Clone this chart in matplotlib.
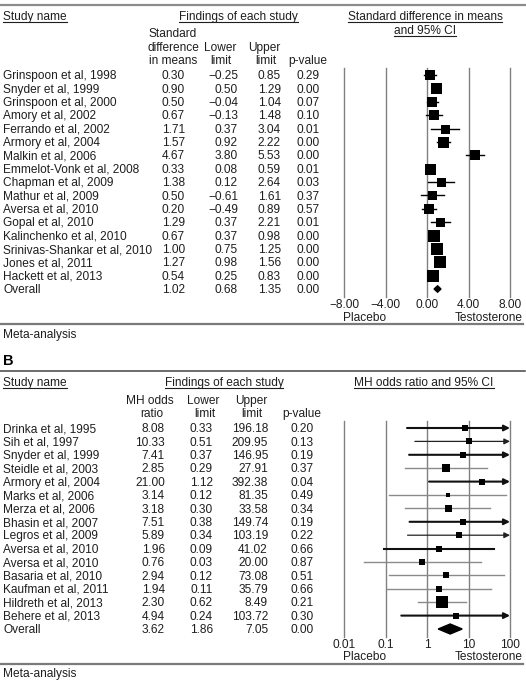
import numpy as np
import matplotlib.pyplot as plt
from matplotlib import transforms
from matplotlib.lines import Line2D
from matplotlib.patches import Polygon

plt.rcParams['font.family'] = ['Liberation Sans', 'DejaVu Sans']
plt.rcParams['font.size'] = 8.6

# ---------------- panel A: standardized difference in means ----------------
a_names = ["Grinspoon et al, 1998", "Snyder et al, 1999", "Grinspoon et al, 2000",
           "Amory et al, 2002", "Ferrando et al, 2002", "Armory et al, 2004",
           "Malkin et al, 2006", "Emmelot-Vonk et al, 2008", "Chapman et al, 2009",
           "Mathur et al, 2009", "Aversa et al, 2010", "Gopal et al, 2010",
           "Kalinchenko et al, 2010", "Srinivas-Shankar et al, 2010",
           "Jones et al, 2011", "Hackett et al, 2013", "Overall"]
a_est = [0.30, 0.90, 0.50, 0.67, 1.71, 1.57, 4.67, 0.33, 1.38, 0.50, 0.20,
         1.29, 0.67, 1.00, 1.27, 0.54, 1.02]
a_lower = [-0.25, 0.50, -0.04, -0.13, 0.37, 0.92, 3.80, 0.08, 0.12, -0.61, -0.49,
           0.37, 0.37, 0.75, 0.98, 0.25, 0.68]
a_upper = [0.85, 1.29, 1.04, 1.48, 3.04, 2.22, 5.53, 0.59, 2.64, 1.61, 0.89,
           2.21, 0.98, 1.25, 1.56, 0.83, 1.35]
a_p = [0.29, 0.00, 0.07, 0.10, 0.01, 0.00, 0.00, 0.01, 0.03, 0.37, 0.57,
       0.01, 0.00, 0.00, 0.00, 0.00, 0.00]
a_ticks = [-8, -4, 0, 4, 8]

# ---------------- panel B: MH odds ratio ----------------
b_names = ["Drinka et al, 1995", "Sih et al, 1997", "Snyder et al, 1999",
           "Steidle et al, 2003", "Armory et al, 2004", "Marks et al, 2006",
           "Merza et al, 2006", "Bhasin et al, 2007", "Legros et al, 2009",
           "Aversa et al, 2010", "Aversa et al, 2010", "Basaria et al, 2010",
           "Kaufman et al, 2011", "Hildreth et al, 2013", "Behere et al, 2013",
           "Overall"]
b_est = [8.08, 10.33, 7.41, 2.85, 21.00, 3.14, 3.18, 7.51, 5.89, 1.96, 0.76,
         2.94, 1.94, 2.30, 4.94, 3.62]
b_lower = [0.33, 0.51, 0.37, 0.29, 1.12, 0.12, 0.30, 0.38, 0.34, 0.09, 0.03,
           0.12, 0.11, 0.62, 0.24, 1.86]
b_upper = [196.18, 209.95, 146.95, 27.91, 392.38, 81.35, 33.58, 149.74, 103.19,
           41.02, 20.00, 73.08, 35.79, 8.49, 103.72, 7.05]
b_p = [0.20, 0.13, 0.19, 0.37, 0.04, 0.49, 0.34, 0.19, 0.22, 0.66, 0.87,
       0.51, 0.66, 0.21, 0.30, 0.00]
b_ticks = [0.01, 0.1, 1, 10, 100]
b_ticklabels = ["0.01", "0.1", "1", "10", "100"]

# box sizes (px) and CI line styles as drawn in the original
a_box = [10, 11, 10, 9.5, 9, 11, 10, 11, 9, 9, 10, 9, 11.5, 11.5, 12, 11.5]
b_box = [6, 5.5, 6, 7.5, 6, 5, 7, 5.5, 6, 5.5, 5.5, 5.5, 5.5, 12.5, 5.5]
b_line = ['k2', 'k1', 'k2', 'g', 'k2', 'g', 'g', 'k2', 'k1', 'k2', 'g', 'g', 'g', 'g', 'k2']
line_styles = {'k2': ('#111111', 1.5), 'k1': ('#222222', 0.9), 'g': ('#8a8a8a', 1.0)}

W, H = 526, 681
TXT = '#1e1e1e'
GRID = '#808080'
fig = plt.figure(figsize=(W / 100, H / 100), dpi=100)


def fx(x):
    return x / W


def fy(y):
    return 1 - y / H


down = transforms.ScaledTranslation(0, -0.012, fig.dpi_scale_trans)


def ftext(x, y, s, **kw):
    kw.setdefault('color', TXT)
    kw.setdefault('va', 'center')
    return fig.text(fx(x), fy(y), s, transform=fig.transFigure + down, **kw)


def hrule(y, x0, x1, color, lw):
    fig.add_artist(Line2D([fx(x0), fx(x1)], [fy(y), fy(y)], transform=fig.transFigure,
                          color=color, lw=lw))


def fmt(v):
    return f"{v:.2f}".replace('-', '\u2212')


def forest_axes(x0, x1, y0, y1, row0, dy, nrows):
    ax = fig.add_axes([fx(x0), fy(y1), fx(x1) - fx(x0), fy(y0) - fy(y1)])
    ax.set_ylim((y1 - row0) / dy, -(row0 - y0) / dy)
    for s in ax.spines.values():
        s.set_visible(False)
    ax.set_yticks([])
    ax.tick_params(axis='x', length=0, pad=1.5, labelsize=8.6, labelcolor=TXT)
    ax.patch.set_alpha(0)
    return ax


def table(ax, cols, names, rows_vals):
    tr = transforms.blended_transform_factory(fig.transFigure, ax.transData) + down
    for i, name in enumerate(names):
        fig.text(fx(3), i, name, transform=tr, va='center', ha='left', color=TXT)
        for xr, vals in zip(cols, rows_vals):
            fig.text(fx(xr), i, fmt(vals[i]), transform=tr, va='center', ha='right', color=TXT)


underlined = []

# ================= Panel A =================
hrule(5, 0, 525, '#8c8c8c', 1.6)
underlined.append(ftext(3, 16, "Study name", ha='left'))
underlined.append(ftext(238.5, 16, "Findings of each study", ha='center'))
underlined.append(ftext(425, 16, "Standard difference in means", ha='center'))
underlined.append(ftext(425, 30, "and 95% CI", ha='center'))
ftext(173, 33, "Standard", ha='center')
ftext(173, 47, "difference", ha='center')
ftext(173, 60, "in means", ha='center')
ftext(220, 47, "Lower", ha='center')
ftext(221, 60, "limit", ha='center')
ftext(264, 47, "Upper", ha='center')
ftext(266, 60, "limit", ha='center')
ftext(307.5, 60, "p-value", ha='center')

axA = forest_axes(344, 510, 68, 297, 75, 13.375, len(a_names))
axA.set_xlim(-8, 8)
axA.set_xticks(a_ticks)
axA.set_xticklabels([fmt(t) for t in a_ticks])
for t in a_ticks:
    axA.axvline(t, color=GRID, lw=1.0, clip_on=False, zorder=0)
nA = len(a_box)
for i in range(nA):
    axA.plot([a_lower[i], a_upper[i]], [i, i], color='black', lw=1.0, zorder=2)
    axA.plot(a_est[i], i, marker='s', ms=a_box[i] * 0.72, mew=0, color='black', zorder=3)
hA = 3.2 / 13.375
axA.add_patch(Polygon([[a_lower[nA], nA], [a_est[nA], nA - hA], [a_upper[nA], nA],
                       [a_est[nA], nA + hA]], closed=True, color='black', zorder=3))
table(axA, [185, 238, 281, 320], a_names, [a_est, a_lower, a_upper, a_p])
ftext(365, 317, "Placebo", ha='center')
ftext(489, 317, "Testosterone", ha='center')
hrule(324, 0, 523, '#7a7a7a', 1.6)
ftext(3, 334, "Meta-analysis", ha='left')

# ================= Panel B =================
ftext(3, 360, "B", ha='left', fontsize=10.5, fontweight='bold', color='black')
hrule(371, 0, 525, '#444444', 1.1)
underlined.append(ftext(3, 382, "Study name", ha='left'))
underlined.append(ftext(224, 382, "Findings of each study", ha='center'))
underlined.append(ftext(424, 382, "MH odds ratio and 95% CI", ha='center'))
ftext(150, 400, "MH odds", ha='center')
ftext(152, 413, "ratio", ha='center')
ftext(203, 400, "Lower", ha='center')
ftext(205, 413, "limit", ha='center')
ftext(251.5, 400, "Upper", ha='center')
ftext(252, 413, "limit", ha='center')
ftext(301.5, 413, "p-value", ha='center')

axB = forest_axes(344, 510, 421, 637, 428, 13.4, len(b_names))
axB.set_xscale('log')
axB.set_xlim(0.01, 100)
axB.set_xticks(b_ticks)
axB.set_xticklabels(b_ticklabels)
axB.minorticks_off()
for t in b_ticks:
    axB.axvline(t, color=GRID, lw=1.0, clip_on=False, zorder=0)
nB = len(b_box)
for i in range(nB):
    col, lw = line_styles[b_line[i]]
    if b_upper[i] > 100:
        axB.annotate('', xy=(100, i), xytext=(b_lower[i], i), xycoords='data',
                     arrowprops=dict(arrowstyle='-|>', color=col, lw=lw, mutation_scale=8.5,
                                     shrinkA=0, shrinkB=0), zorder=2)
    else:
        axB.plot([b_lower[i], b_upper[i]], [i, i], color=col, lw=lw, zorder=2)
    axB.plot(b_est[i], i, marker='s', ms=b_box[i] * 0.72, mew=0, color='black', zorder=3)
hB = 5 / 13.4
axB.add_patch(Polygon([[b_lower[nB], nB], [b_est[nB], nB - hB], [b_upper[nB], nB],
                       [b_est[nB], nB + hB]], closed=True, color='black', zorder=3))
table(axB, [165, 213, 268, 314], b_names, [b_est, b_lower, b_upper, b_p])
ftext(365, 656, "Placebo", ha='center')
ftext(489, 656, "Testosterone", ha='center')
hrule(664, 0, 523, '#7a7a7a', 1.6)
ftext(3, 673, "Meta-analysis", ha='left')

# underline the header texts
fig.canvas.draw()
r = fig.canvas.get_renderer()
for t in underlined:
    bb = t.get_window_extent(r)
    yb = (bb.y0 + 1.0) / (H)
    fig.add_artist(Line2D([bb.x0 / W, bb.x1 / W], [yb, yb], transform=fig.transFigure,
                          color=TXT, lw=0.8))

fig.savefig('out.png', dpi=100)
